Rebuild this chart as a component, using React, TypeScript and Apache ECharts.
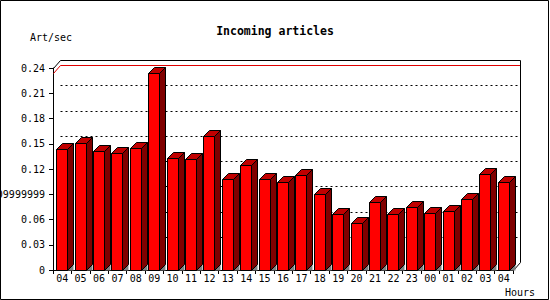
import React, { useEffect, useRef } from "react";
import * as echarts from "echarts";

const categories = ["04","05","06","07","08","09","10","11","12","13","14","15","16","17","18","19","20","21","22","23","00","01","02","03","04"];
const artPerSec = [0.1443,0.1514,0.1408,0.1396,0.1455,0.2344,0.1325,0.1313,0.1597,0.1076,0.1253,0.1076,0.104,0.1123,0.0898,0.066,0.0554,0.0803,0.066,0.0744,0.0672,0.0696,0.0838,0.1135,0.104];
const yTickValues = [0, 0.03, 0.06, 0.09, 0.12, 0.15, 0.18, 0.21, 0.24];
const yTickLabels = ["0", "0.03", "0.06", "0.09999999", "0.12", "0.15", "0.18", "0.21", "0.24"];

const FONT = "DejaVu Sans Mono";
const DX = 7;
const DY = 8;
const BD = 6;

const px = (v: number) => Math.round(v) + 0.5;

export default function App() {
  const ref = useRef<HTMLDivElement>(null);
  useEffect(() => {
    if (!ref.current) return;
    const chart = echarts.init(ref.current, null, { renderer: "svg" });
    const maxVal = Math.max(...artPerSec);
    chart.setOption({
      animation: false,
      backgroundColor: "#fff",
      textStyle: { fontFamily: FONT, color: "#000" },
      grid: { left: 53, right: 37, top: 68, bottom: 30, containLabel: false, outerBoundsMode: "none" },
      xAxis: {
        type: "category",
        data: categories,
        boundaryGap: true,
        axisLine: { show: true, lineStyle: { color: "#000", width: 1 } },
        axisTick: { show: true, length: 4, lineStyle: { color: "#000" }, interval: 0 },
        axisLabel: { interval: 0, fontFamily: FONT, fontSize: 10, color: "#000", margin: 3 },
        splitLine: { show: false },
      },
      yAxis: {
        type: "value",
        min: 0,
        max: 0.24,
        interval: 0.03,
        axisLine: { show: true, lineStyle: { color: "#000", width: 1 } },
        axisTick: { show: true, length: 4, lineStyle: { color: "#000" } },
        axisLabel: {
          fontFamily: FONT,
          fontSize: 10,
          color: "#000",
          margin: 8,
          formatter: (v: number) => {
            const i = yTickValues.findIndex((t) => Math.abs(t - v) < 1e-6);
            return i >= 0 ? yTickLabels[i] : String(v);
          },
        },
        splitLine: { show: false },
      },
      title: {
        text: "Incoming articles",
        left: "center",
        top: 20,
        textStyle: { fontFamily: FONT, fontSize: 11.5, fontWeight: "bold", color: "#000" },
      },
      graphic: [
        { type: "rect", shape: { x: 0.5, y: 0.5, width: 548, height: 299 }, style: { fill: "none", stroke: "#000", lineWidth: 1 }, z: 100 },
        { type: "text", x: 30, y: 37, style: { text: "Art/sec", font: `10px "${FONT}"`, fill: "#000", verticalAlign: "middle" } },
        { type: "text", x: 505, y: 292, style: { text: "Hours", font: `10px "${FONT}"`, fill: "#000", verticalAlign: "middle" } },
      ],
      series: [
        {
          type: "custom",
          name: "frame",
          z: 1,
          data: [[0, 0]],
          renderItem: (params: any, api: any) => {
            const cs = params.coordSys;
            const gx = cs.x, gy = cs.y, gw = cs.width, gh = cs.height;
            const children: any[] = [];
            for (let i = 1; i < yTickValues.length - 1; i++) {
              const y = px(api.coord([0, yTickValues[i]])[1] - DY);
              children.push({
                type: "line",
                shape: { x1: px(gx + DX), y1: y, x2: px(gx + gw + DX), y2: y },
                style: { stroke: "#000", lineWidth: 1, lineDash: [2, 3] },
              });
            }
            const yMax = api.coord([0, maxVal])[1];
            children.push({
              type: "polyline",
              shape: { points: [[px(gx), px(yMax)], [px(gx + DX), px(yMax - DY)], [px(gx + gw + DX), px(yMax - DY)]] },
              style: { stroke: "#e00000", lineWidth: 1, fill: "none" },
            });
            children.push({
              type: "polyline",
              shape: {
                points: [
                  [px(gx), px(gy)],
                  [px(gx + DX), px(gy - DY)],
                  [px(gx + gw + DX), px(gy - DY)],
                  [px(gx + gw + DX), px(gy + gh - DY)],
                  [px(gx + gw), px(gy + gh)],
                ],
              },
              style: { stroke: "#000", lineWidth: 1, fill: "none" },
            });
            return { type: "group", children };
          },
        },
        {
          type: "custom",
          name: "Art/sec",
          z: 2,
          data: artPerSec.map((v, i) => [i, v]),
          renderItem: (params: any, api: any) => {
            const idx = api.value(0);
            const val = api.value(1);
            const top = api.coord([idx, val]);
            const base = api.coord([idx, 0]);
            const xl = px(top[0] - 6);
            const xr = xl + 11;
            const yt = px(top[1]);
            const yb = px(base[1]);
            const s = { stroke: "#000", lineWidth: 1 };
            return {
              type: "group",
              children: [
                {
                  type: "polygon",
                  shape: { points: [[xr, yb], [xr + BD, yb - BD], [xr + BD, yb]] },
                  style: { fill: "#808080", stroke: "none" },
                },
                {
                  type: "polygon",
                  shape: { points: [[xr, yt], [xr + BD, yt - BD], [xr + BD, yb - BD], [xr, yb]] },
                  style: { fill: "#800000", ...s },
                },
                {
                  type: "polygon",
                  shape: { points: [[xl, yt], [xl + BD, yt - BD], [xr + BD, yt - BD], [xr, yt]] },
                  style: { fill: "#c00000", ...s },
                },
                {
                  type: "rect",
                  shape: { x: xl, y: yt, width: xr - xl, height: yb - yt },
                  style: { fill: "#ff0000", ...s },
                },
              ],
            };
          },
        },
      ],
    });
    return () => chart.dispose();
  }, []);
  return <div ref={ref} style={{ position: "absolute", left: 0, top: 0, width: 550, height: 300 }} />;
}
